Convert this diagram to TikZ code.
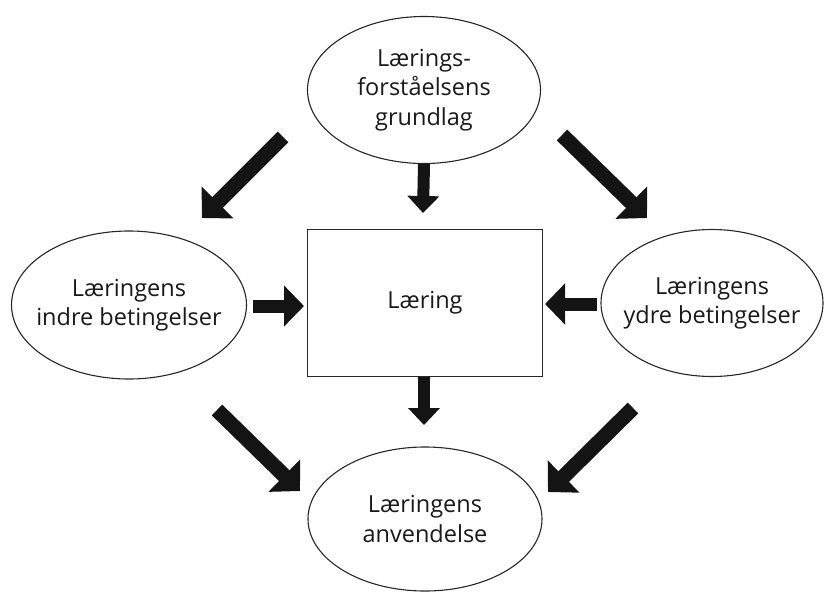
\documentclass[tikz,border=0pt]{standalone}
\usepackage{fontspec}
\setmainfont{Open Sans}
\usetikzlibrary{shapes.geometric,arrows.meta}
\begin{document}
\begin{tikzpicture}[x=1pt,y=-1pt,
  caption/.style={align=center,inner sep=0pt,
    font=\fontsize{23.5}{29.5}\selectfont,text=black!90},
  % outline of fixed size; the words sit in a centred label
  oval/.style={ellipse,draw=black!85,line width=1.1pt,inner sep=0pt,
    label={[caption]center:#1}},
  box/.style={rectangle,draw=black!85,line width=1.3pt,inner sep=0pt,
    label={[caption]center:#1}},
  straightarrow/.style={line width=12pt,black!92,
    -{Triangle[width=31pt,length=17pt]}},
  sidearrow/.style={line width=13pt,black!92,
    -{Triangle[width=40pt,length=20pt]}},
  diagarrow/.style={line width=15pt,black!92,
    -{Triangle[width=44pt,length=22pt]}}]
\useasboundingbox (0,0) rectangle (824,592);

% nodes
\node[oval={Lærings-\\forståelsens\\grundlag},
  minimum width=233pt,minimum height=147pt] (top) at (424,90) {};
\node[oval={Læringens\\indre betingelser},
  minimum width=235pt,minimum height=148pt] (inner) at (129,305) {};
\node[oval={Læringens\\ydre betingelser},
  minimum width=222pt,minimum height=147pt] (outer) at (712,303) {};
\node[box={Læring},
  minimum width=235pt,minimum height=147pt] (learn) at (425,303) {};
\node[oval={Læringens\\anvendelse},
  minimum width=234pt,minimum height=144pt] (use) at (425,519) {};

% arrow end points
\coordinate (tl1) at (283,137);  \coordinate (tl2) at (202,218);
\coordinate (tr1) at (562,135);  \coordinate (tr2) at (647,218);
\coordinate (bl1) at (217,410);  \coordinate (bl2) at (300,491);
\coordinate (br1) at (633,408);  \coordinate (br2) at (548,492);
\coordinate (tc2) at (423,213);
\coordinate (bc1) at (424,377);  \coordinate (bc2) at (424,425);
\coordinate (lc1) at (253,306);  \coordinate (lc2) at (304,306);
\coordinate (rc1) at (597,304);  \coordinate (rc2) at (545,304);

% arrows
\draw[diagarrow] (tl1) -- (tl2);
\draw[diagarrow] (tr1) -- (tr2);
\draw[diagarrow] (bl1) -- (bl2);
\draw[diagarrow] (br1) -- (br2);
\draw[straightarrow] (top.south) -- (tc2);
\draw[straightarrow] (bc1) -- (bc2);
\draw[sidearrow] (lc1) -- (lc2);
\draw[sidearrow] (rc1) -- (rc2);
\end{tikzpicture}
\end{document}
